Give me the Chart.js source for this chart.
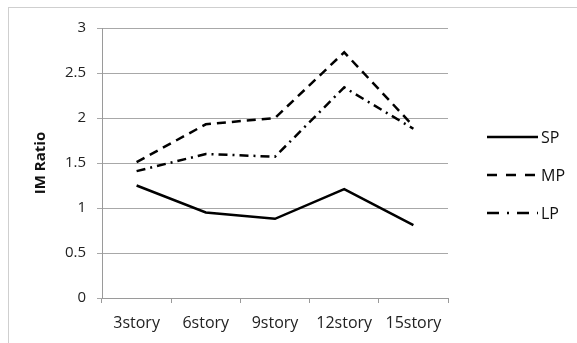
<!DOCTYPE html>
<html>
<head>
<meta charset="utf-8">
<script src="https://cdn.jsdelivr.net/npm/chart.js@4/dist/chart.umd.min.js"></script>
<style>
  html, body { margin: 0; padding: 0; background: #fff; }
  #wrap { position: relative; width: 577px; height: 343px; overflow: hidden; }
  #frame { position: absolute; left: 8px; top: 7px; width: 600px; height: 400px;
           border-top: 1px solid #cfcfcf; border-left: 1px solid #cfcfcf; }
  canvas { position: absolute; left: 0; top: 0; }
</style>
</head>
<body>
<div id="wrap">
  <div id="frame"></div>
  <canvas id="chart" width="577" height="343"></canvas>
</div>
<script>
// categories and series
const stories = ['3story', '6story', '9story', '12story', '15story'];
const sp = [1.25, 0.95, 0.88, 1.21, 0.81];
const mp = [1.51, 1.93, 2.00, 2.73, 1.91];
const lp = [1.41, 1.60, 1.57, 2.34, 1.88];
const yTicks = [0, 0.5, 1, 1.5, 2, 2.5, 3];

const FONT = '"Open Sans", Lato, sans-serif';

// legend on the right: short line sample in each series' dash style + name
const sideLegend = {
  id: 'sideLegend',
  afterDraw(chart) {
    const { ctx, chartArea } = chart;
    const x0 = chartArea.right + 39, x1 = x0 + 51;
    ctx.save();
    chart.data.datasets.forEach((ds, i) => {
      const y = chartArea.top + 109 + i * 38;
      ctx.strokeStyle = ds.borderColor;
      ctx.lineWidth = ds.borderWidth;
      ctx.setLineDash(ds.legendDash || []);
      ctx.beginPath();
      ctx.moveTo(x0, y);
      ctx.lineTo(x1, y);
      ctx.stroke();
      ctx.setLineDash([]);
      ctx.fillStyle = '#111';
      ctx.font = '16px ' + FONT;
      ctx.textBaseline = 'middle';
      ctx.fillText(ds.label, x1 + 3, y + 1);
    });
    ctx.restore();
  }
};

new Chart(document.getElementById('chart'), {
  type: 'line',
  data: {
    labels: stories,
    datasets: [
      { label: 'SP', data: sp, borderColor: '#000', borderWidth: 2.5, borderDash: [] },
      { label: 'MP', data: mp, borderColor: '#000', borderWidth: 2.5, borderDash: [9, 6], legendDash: [10, 9] },
      { label: 'LP', data: lp, borderColor: '#000', borderWidth: 2.5, borderDash: [9, 5, 2, 5], legendDash: [12, 8, 2, 8] }
    ]
  },
  options: {
    animation: false,
    responsive: false,
    elements: { point: { radius: 0 }, line: { tension: 0, borderJoinStyle: 'miter' } },
    layout: { padding: { left: 28, top: 28, right: 129, bottom: 0 } },
    scales: {
      x: {
        offset: true,
        grid: { offset: true, drawOnChartArea: false, drawTicks: true, tickLength: 5, color: '#9a9a9a' },
        border: { color: '#9a9a9a' },
        ticks: { color: '#222', font: { family: FONT, size: 16 }, padding: 11, maxRotation: 0 },
        afterFit(s) { s.height = 45; }
      },
      y: {
        min: 0, max: 3,
        afterBuildTicks(s) { s.ticks = yTicks.map(v => ({ value: v })); },
        grid: { color: '#a8a8a8', tickLength: 5 },
        border: { color: '#9a9a9a' },
        ticks: { color: '#222', font: { family: FONT, size: 15 }, padding: 11, callback: v => String(v) },
        title: { display: true, text: 'IM Ratio', color: '#111', font: { family: FONT, size: 15, weight: 'bold' }, padding: { top: 4, bottom: 4 } },
        afterFit(s) { s.width = 74; }
      }
    },
    plugins: { legend: { display: false }, tooltip: { enabled: false } }
  },
  plugins: [sideLegend]
});
</script>
</body>
</html>
